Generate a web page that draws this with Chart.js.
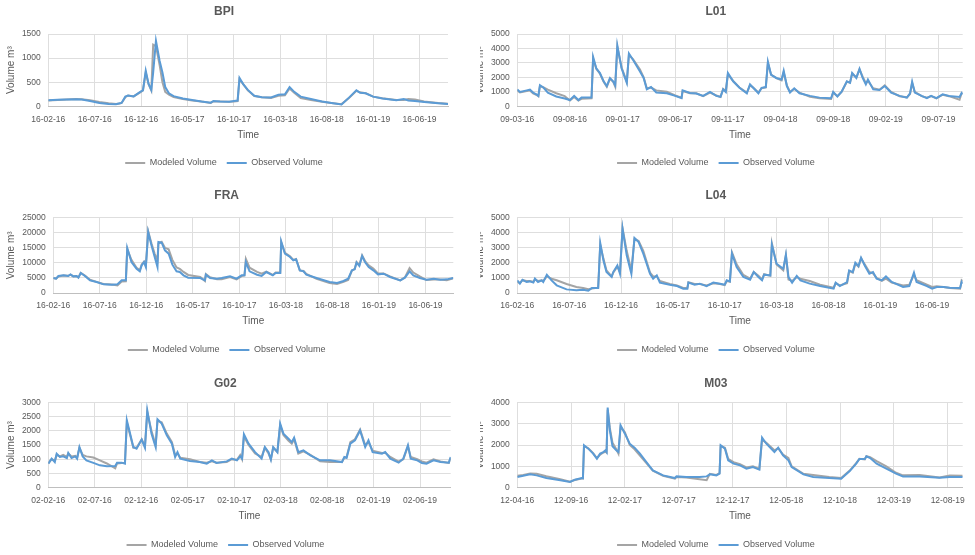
<!DOCTYPE html>
<html>
<head>
<meta charset="utf-8">
<script src="https://cdn.jsdelivr.net/npm/chart.js@4.4.1/dist/chart.umd.min.js"></script>
<style>
   html, body { margin: 0; padding: 0; background: #fff; overflow: hidden; }
   .panel { position: absolute; overflow: hidden; }
   .panel canvas { position: absolute; top: 0; }
</style>
</head>
<body>
<div class="panel" id="panel-bpi"><canvas id="bpi"></canvas></div>
<div class="panel" id="panel-l01"><canvas id="l01"></canvas></div>
<div class="panel" id="panel-fra"><canvas id="fra"></canvas></div>
<div class="panel" id="panel-l04"><canvas id="l04"></canvas></div>
<div class="panel" id="panel-g02"><canvas id="g02"></canvas></div>
<div class="panel" id="panel-m03"><canvas id="m03"></canvas></div>
<script>
// x values are months since the first axis label
const feb16Ticks = ['16-02-16', '16-07-16', '16-12-16', '16-05-17', '16-10-17', '16-03-18', '16-08-18', '16-01-19', '16-06-19'];
const l01Ticks = ['09-03-16', '09-08-16', '09-01-17', '09-06-17', '09-11-17', '09-04-18', '09-09-18', '09-02-19', '09-07-19'];
const g02Ticks = ['02-02-16', '02-07-16', '02-12-16', '02-05-17', '02-10-17', '02-03-18', '02-08-18', '02-01-19', '02-06-19'];
const m03Ticks = ['12-04-16', '12-09-16', '12-02-17', '12-07-17', '12-12-17', '12-05-18', '12-10-18', '12-03-19', '12-08-19'];

const bpiMonths = [0, 1, 2, 3, 3.6, 4.5, 5.5, 6.5, 7.3, 7.7, 7.9, 8.3, 8.6, 9.2, 9.9, 10.2, 10.5, 10.8, 11.1, 11.3, 11.6, 12.0, 12.3, 12.6, 13.0, 13.5, 14.5, 15.5, 16.5, 17.5, 17.8, 18.5, 19.5, 20.0, 20.4, 20.6, 21.0, 21.5, 22.2, 23.0, 24.0, 24.8, 25.5, 26.0, 26.5, 27.2, 28.3, 29.5, 30.5, 31.6, 32.4, 33.2, 33.6, 34.2, 35.0, 36.0, 37.5, 38.3, 38.8, 39.5, 40.5, 42.0, 43.07];
const bpiObserved = [125, 135, 140, 145, 140, 110, 70, 50, 45, 65, 70, 200, 225, 205, 300, 330, 740, 470, 340, 700, 1360, 940, 700, 400, 270, 210, 160, 130, 100, 75, 110, 100, 95, 110, 120, 590, 460, 340, 220, 190, 185, 240, 250, 400, 300, 200, 150, 100, 70, 40, 180, 330, 280, 270, 200, 160, 125, 150, 120, 110, 90, 65, 50];
const bpiModeled = [120, 130, 140, 150, 145, 125, 90, 65, 50, 60, 70, 190, 225, 205, 290, 330, 700, 460, 330, 1280, 1250, 850, 500, 300, 240, 190, 150, 120, 100, 70, 100, 100, 95, 100, 110, 560, 460, 330, 215, 190, 175, 220, 230, 370, 280, 170, 130, 95, 70, 45, 170, 320, 290, 270, 200, 165, 130, 130, 150, 140, 100, 70, 55];

const l01Months = [0, 0.25, 0.9, 1.2, 1.5, 1.8, 2.0, 2.15, 2.5, 2.9, 3.7, 4.5, 5.0, 5.4, 5.8, 6.1, 7.05, 7.2, 7.5, 7.85, 8.2, 8.5, 8.8, 9.1, 9.3, 9.5, 9.9, 10.4, 10.6, 11.0, 11.65, 12.0, 12.3, 12.7, 13.2, 14.2, 15.0, 15.6, 15.7, 16.4, 17.0, 17.65, 18.3, 18.9, 19.3, 19.55, 19.8, 20.0, 20.5, 21.1, 21.8, 22.1, 22.4, 22.9, 23.2, 23.6, 23.8, 24.1, 24.6, 25.1, 25.3, 25.6, 25.9, 26.3, 26.8, 27.8, 28.7, 29.8, 30.0, 30.4, 30.8, 31.3, 31.6, 31.8, 32.2, 32.5, 32.8, 33.1, 33.3, 33.8, 34.4, 34.9, 35.5, 36.3, 37.0, 37.3, 37.5, 37.75, 38.4, 38.9, 39.3, 39.8, 40.4, 41.0, 42.0, 42.2, 42.3];
const l01Observed = [1170, 990, 1100, 1150, 950, 830, 720, 1460, 1280, 950, 680, 540, 430, 720, 430, 600, 600, 3420, 2630, 2300, 1730, 1400, 1960, 1730, 1450, 4200, 2630, 1620, 3650, 3200, 2400, 1960, 1170, 1330, 950, 900, 720, 560, 1100, 920, 880, 720, 990, 720, 650, 1170, 990, 2300, 1730, 1280, 900, 1510, 1280, 900, 1280, 1330, 3080, 2180, 1960, 1850, 2450, 1400, 950, 1240, 900, 720, 600, 560, 990, 680, 1010, 1730, 1620, 2300, 1960, 2590, 1960, 1510, 1850, 1170, 1130, 1400, 950, 720, 600, 900, 1690, 950, 720, 560, 720, 560, 830, 720, 650, 920, 830];
const l01Modeled = [1100, 960, 1050, 1100, 900, 800, 700, 1400, 1300, 1150, 900, 700, 400, 650, 400, 520, 560, 3300, 2600, 2250, 1700, 1350, 1900, 1700, 1350, 4100, 2700, 1700, 3550, 3250, 2550, 2000, 1250, 1300, 1100, 1000, 750, 600, 1050, 900, 900, 700, 950, 750, 650, 1200, 1050, 2200, 1750, 1300, 950, 1450, 1300, 950, 1250, 1300, 3000, 2200, 1950, 1800, 2350, 1450, 1000, 1200, 950, 650, 550, 500, 950, 700, 1000, 1700, 1650, 2250, 2000, 2550, 2050, 1600, 1750, 1250, 1150, 1450, 1000, 700, 620, 850, 1600, 1000, 700, 600, 700, 550, 800, 700, 450, 900, 850];

const fraMonths = [0, 0.3, 0.55, 1.1, 1.6, 1.85, 2.15, 2.5, 2.7, 2.95, 3.4, 3.95, 4.65, 5.4, 6.3, 6.9, 7.35, 7.8, 7.95, 8.4, 8.95, 9.3, 9.5, 9.75, 9.95, 10.2, 10.55, 10.9, 11.2, 11.3, 11.65, 12.0, 12.4, 12.8, 13.25, 13.6, 14.0, 14.5, 15.8, 16.3, 16.4, 16.85, 17.6, 18.1, 19.0, 19.7, 20.25, 20.55, 20.7, 21.1, 21.9, 22.4, 22.9, 23.6, 23.9, 24.4, 24.5, 24.9, 25.45, 25.8, 26.1, 26.5, 26.9, 27.2, 28.3, 29.7, 30.5, 31.2, 31.7, 32.1, 32.4, 32.6, 32.9, 33.2, 33.5, 33.9, 34.4, 34.9, 35.5, 36.2, 37.3, 37.8, 38.3, 38.7, 39.4, 40.1, 40.9, 41.6, 42.3, 43.0];
const fraObserved = [4980, 4750, 5640, 5860, 5640, 6190, 5530, 5640, 5090, 6640, 5640, 4200, 3650, 2880, 2760, 2880, 4200, 4200, 14930, 10280, 8070, 7190, 9180, 10280, 8630, 20240, 15820, 11950, 8630, 16920, 16700, 14160, 13050, 9400, 7190, 6970, 5860, 5090, 4980, 4200, 6080, 4980, 4750, 4980, 5530, 4750, 5860, 5860, 10280, 7190, 6080, 5640, 6970, 5860, 6640, 6640, 17140, 13050, 11950, 10840, 11170, 7520, 7190, 6080, 4980, 3650, 3320, 3980, 4750, 7520, 7850, 10060, 8960, 12280, 10280, 8630, 7520, 6190, 6410, 5310, 4200, 5090, 7190, 5860, 4980, 4420, 4750, 4420, 4530, 4980];
const fraModeled = [5000, 4800, 5500, 5800, 5700, 6100, 5500, 5600, 5200, 6700, 5800, 4400, 3700, 3000, 2800, 2500, 3800, 3900, 14500, 11000, 8400, 7600, 9500, 10400, 9000, 20500, 16500, 13000, 11000, 16500, 17000, 15000, 14500, 11000, 8500, 8000, 7000, 6000, 5300, 4000, 6300, 5200, 4600, 4600, 5300, 4500, 5600, 5800, 11300, 8400, 7000, 6400, 7100, 6000, 6800, 6800, 16800, 13300, 12200, 11000, 11300, 7500, 7300, 6300, 4700, 3300, 3000, 3700, 4300, 7400, 8000, 10300, 9300, 12500, 10700, 9200, 8100, 6500, 6500, 5500, 4200, 5200, 8300, 6800, 5500, 4300, 4500, 4500, 4200, 4900];

const l04Months = [0, 0.25, 0.5, 0.9, 1.2, 1.55, 1.7, 2.0, 2.35, 2.5, 2.85, 3.3, 3.8, 4.75, 5.7, 6.35, 6.85, 7.2, 7.8, 8.0, 8.3, 8.6, 9.1, 9.25, 9.65, 9.9, 10.15, 10.55, 11.0, 11.3, 11.7, 12.15, 12.8, 13.1, 13.45, 13.75, 14.7, 15.4, 16.0, 16.4, 16.5, 17.1, 17.6, 18.25, 18.9, 19.55, 20.0, 20.2, 20.5, 20.7, 21.15, 21.8, 22.45, 22.8, 23.25, 23.6, 23.8, 24.4, 24.55, 25.0, 25.65, 25.9, 26.15, 26.5, 26.95, 27.3, 28.2, 29.2, 30.5, 30.7, 31.1, 31.8, 32.0, 32.35, 32.6, 32.9, 33.15, 33.5, 33.95, 34.3, 34.65, 35.15, 35.55, 36.1, 37.2, 37.8, 38.25, 38.5, 39.5, 40.0, 40.45, 41.1, 41.7, 42.7, 42.85, 42.95];
const l04Observed = [840, 620, 880, 730, 770, 690, 950, 730, 840, 730, 1215, 840, 510, 240, 180, 220, 155, 330, 330, 3315, 2170, 1390, 1060, 1390, 1830, 1280, 4270, 2500, 1280, 3650, 3380, 2610, 1280, 950, 1170, 690, 550, 460, 290, 290, 690, 550, 620, 460, 690, 620, 550, 840, 770, 2610, 1720, 1060, 880, 1390, 1060, 840, 1215, 1170, 3200, 1940, 1610, 2540, 1060, 690, 1130, 840, 620, 460, 290, 690, 460, 730, 1500, 1390, 2010, 1790, 2340, 1830, 1280, 1390, 950, 840, 1100, 730, 400, 460, 1350, 730, 460, 290, 400, 400, 350, 330, 730, 620];
const l04Modeled = [750, 650, 850, 800, 800, 750, 900, 800, 850, 800, 1100, 950, 850, 600, 400, 330, 250, 300, 350, 3200, 2300, 1500, 1100, 1350, 1750, 1400, 4300, 2800, 1500, 3600, 3450, 2800, 1350, 1100, 1100, 800, 600, 500, 330, 350, 720, 600, 600, 500, 650, 600, 520, 800, 750, 2700, 1900, 1200, 950, 1400, 1150, 900, 1250, 1150, 3300, 1900, 1500, 2500, 900, 800, 1050, 950, 800, 550, 350, 650, 500, 650, 1450, 1350, 1950, 1750, 2300, 1900, 1400, 1300, 1000, 800, 950, 700, 500, 550, 1200, 850, 550, 400, 450, 400, 330, 280, 850, 800];

const g02Months = [0, 0.36, 0.7, 0.9, 1.25, 1.6, 2.0, 2.15, 2.5, 2.9, 3.1, 3.35, 3.7, 4.1, 4.85, 5.55, 6.3, 7.2, 7.4, 7.9, 8.25, 8.45, 8.8, 9.15, 9.5, 10.05, 10.4, 10.65, 11.1, 11.55, 11.75, 12.2, 12.75, 13.3, 13.65, 13.9, 14.2, 15.25, 16.3, 17.05, 17.6, 18.1, 19.2, 19.75, 20.3, 20.65, 20.85, 21.05, 21.55, 22.25, 22.95, 23.3, 23.7, 23.95, 24.2, 24.65, 24.95, 25.3, 25.85, 26.2, 26.45, 26.9, 27.45, 28.2, 29.25, 30.3, 31.6, 31.85, 32.1, 32.5, 33.0, 33.55, 34.1, 34.45, 34.9, 35.9, 36.25, 36.8, 37.7, 38.2, 38.7, 39.0, 39.7, 40.2, 40.7, 41.45, 42.2, 43.1, 43.3];
const g02Observed = [843, 1020, 900, 1195, 1080, 1100, 1040, 1220, 1040, 1100, 1020, 1430, 1100, 960, 870, 785, 750, 760, 880, 880, 843, 2365, 1900, 1430, 1370, 1690, 1405, 2715, 1900, 1430, 2400, 2250, 1840, 1545, 1080, 1250, 1020, 937, 900, 843, 960, 870, 925, 1020, 960, 1100, 1020, 1875, 1545, 1250, 1020, 1430, 1250, 985, 1430, 1250, 2250, 1900, 1720, 1600, 1755, 1250, 1310, 1135, 960, 960, 900, 1080, 1050, 1545, 1665, 2010, 1430, 1665, 1250, 1195, 1250, 1020, 880, 1020, 1490, 1020, 960, 870, 843, 960, 900, 880, 1080];
const g02Modeled = [850, 1000, 950, 1150, 1100, 1150, 1080, 1200, 1100, 1120, 1050, 1400, 1150, 1100, 1060, 960, 850, 680, 850, 870, 880, 2300, 1850, 1400, 1400, 1700, 1450, 2650, 2000, 1500, 2350, 2300, 1900, 1600, 1150, 1200, 1050, 1000, 900, 880, 930, 880, 900, 1000, 980, 1150, 1000, 1800, 1500, 1200, 1080, 1400, 1200, 1000, 1400, 1250, 2200, 1850, 1650, 1550, 1700, 1200, 1280, 1150, 930, 900, 900, 1050, 1080, 1600, 1700, 2040, 1500, 1600, 1300, 1220, 1230, 1080, 920, 1000, 1450, 1080, 1000, 920, 880, 1000, 920, 870, 1050];

const m03Months = [0, 0.55, 1.2, 1.8, 2.7, 4.0, 4.9, 5.35, 6.0, 6.1, 6.2, 6.6, 7.05, 7.4, 7.7, 8.0, 8.2, 8.3, 8.4, 8.6, 8.85, 9.2, 9.4, 9.6, 10.0, 10.45, 10.9, 11.4, 12.0, 12.6, 13.55, 14.65, 14.8, 15.7, 16.95, 17.6, 17.9, 18.5, 18.8, 18.9, 19.3, 19.6, 20.1, 20.7, 21.3, 21.9, 22.5, 22.75, 23.15, 23.9, 24.25, 24.7, 25.2, 25.5, 26.6, 27.5, 29.0, 30.1, 30.9, 31.5, 31.8, 32.3, 32.45, 32.8, 33.4, 34.3, 35.2, 35.85, 37.4, 39.25, 40.2, 41.4];
const m03Observed = [500, 563, 625, 578, 453, 344, 266, 375, 453, 440, 1985, 1830, 1595, 1360, 1595, 1670, 1750, 1670, 3750, 2690, 1940, 1750, 1670, 2920, 2530, 2060, 1875, 1595, 1200, 810, 578, 453, 530, 500, 500, 530, 625, 578, 656, 1985, 1830, 1280, 1125, 1047, 890, 970, 845, 2345, 2060, 1670, 1875, 1515, 1280, 970, 625, 500, 453, 422, 780, 1125, 1345, 1345, 1470, 1390, 1125, 890, 656, 530, 530, 470, 500, 500];
const m03Modeled = [560, 600, 660, 650, 540, 400, 280, 360, 430, 430, 1950, 1850, 1620, 1380, 1550, 1650, 1680, 1650, 3650, 2800, 2100, 1800, 1600, 2850, 2600, 2000, 1800, 1500, 1150, 800, 560, 420, 500, 480, 400, 350, 650, 600, 680, 1950, 1870, 1350, 1200, 1100, 950, 1000, 880, 2250, 2100, 1750, 1850, 1550, 1400, 1000, 650, 600, 500, 450, 800, 1150, 1350, 1320, 1480, 1430, 1250, 1000, 700, 580, 600, 480, 570, 560];

const TICK_STEP = 5;   // months between date labels
const GRAY = '#A5A5A5';
const BLUE = '#5B9BD5';
const TEXT = '#595959';
const GRID = '#DEDEDE';

Chart.defaults.font.family = "'Liberation Sans', Arial, sans-serif";

// vertical layout of each row of panels (px, relative to the panel top)
const rows = [
   { top: 0,   height: 180, titleY: 12, plotTop: 34,   plotBottom: 106.3, timeY: 135,   legendY: 163 },
   { top: 180, height: 185, titleY: 16, plotTop: 37.7, plotBottom: 113,   timeY: 141.7, legendY: 170 },
   { top: 365, height: 195, titleY: 19, plotTop: 37.3, plotBottom: 122.7, timeY: 151.7, legendY: 180 }
];
const cols = [
   { left: 0,   width: 460, canvasLeft: 0 },
   { left: 480, width: 495, canvasLeft: -11 }
];

function toPoints(xs, ys) {
   return xs.map((x, i) => ({ x: x, y: ys[i] }));
}

function drawPanel(id, title, row, col, yWidth, padRight, months, modeled, observed, tickLabels, yMax, yStep) {
   const r = rows[row];
   const c = cols[col];
   const panel = document.getElementById('panel-' + id);
   panel.style.left = c.left + 'px';
   panel.style.top = r.top + 'px';
   panel.style.width = c.width + 'px';
   panel.style.height = r.height + 'px';

   const canvas = document.getElementById(id);
   canvas.width = c.width - c.canvasLeft;
   canvas.height = r.height;
   canvas.style.left = c.canvasLeft + 'px';

   const legendTop = r.legendY - 14.5;

   new Chart(canvas, {
      type: 'line',
      data: {
         datasets: [{
            label: 'Modeled Volume',
            data: toPoints(months, modeled),
            borderColor: GRAY,
            backgroundColor: GRAY,
            borderWidth: 2,
            pointRadius: 0,
            order: 1
         }, {
            label: 'Observed Volume',
            data: toPoints(months, observed),
            borderColor: BLUE,
            backgroundColor: BLUE,
            borderWidth: 2,
            pointRadius: 0,
            order: 0
         }]
      },
      options: {
         responsive: false,
         animation: false,
         layout: { padding: { left: 0, right: padRight, top: 0, bottom: r.height - r.legendY - 14.5 } },
         plugins: {
            title: {
               display: true,
               text: title,
               color: TEXT,
               font: { size: 12, weight: 'bold' },
               padding: { top: r.titleY - 7.2, bottom: r.plotTop - r.titleY - 7.2 }
            },
            legend: {
               position: 'bottom',
               labels: {
                  boxWidth: 20,
                  boxHeight: 2,
                  padding: 10,
                  color: TEXT,
                  font: { size: 9 },
                  sort: (a, b) => a.datasetIndex - b.datasetIndex,
                  generateLabels: chart => Chart.defaults.plugins.legend.labels.generateLabels(chart)
                     .map(item => Object.assign(item, { lineWidth: 0 }))
               }
            },
            tooltip: { enabled: false }
         },
         scales: {
            x: {
               type: 'linear',
               min: 0,
               max: months[months.length - 1],
               afterBuildTicks: scale => {
                  scale.ticks = tickLabels.map((t, i) => ({ value: i * TICK_STEP }));
               },
               afterFit: scale => { scale.height = legendTop - r.plotBottom; },
               ticks: {
                  color: TEXT,
                  font: { size: 8.5 },
                  padding: 8,
                  maxRotation: 0,
                  autoSkip: false,
                  callback: (v, i) => tickLabels[i]
               },
               grid: { color: GRID, drawTicks: false },
               border: { color: '#BFBFBF' },
               title: {
                  display: true,
                  text: 'Time',
                  color: TEXT,
                  font: { size: 10 },
                  padding: { top: 0, bottom: legendTop - 6 - r.timeY }
               }
            },
            y: {
               min: 0,
               max: yMax,
               afterFit: scale => { scale.width = yWidth; },
               ticks: {
                  stepSize: yStep,
                  color: TEXT,
                  font: { size: 8.5 },
                  padding: 7.5,
                  callback: v => String(v)
               },
               grid: { color: GRID, drawTicks: false },
               border: { display: false },
               title: {
                  display: true,
                  text: 'Volume m³',
                  color: TEXT,
                  font: { size: 10 },
                  padding: { top: 5, bottom: 0 }
               }
            }
         }
      }
   });
}

drawPanel('bpi', 'BPI', 0, 0, 48.3, 12, bpiMonths, bpiModeled, bpiObserved, feb16Ticks, 1500, 500);
drawPanel('l01', 'L01', 0, 1, 48.3, 12.3, l01Months, l01Modeled, l01Observed, l01Ticks, 5000, 1000);
drawPanel('fra', 'FRA', 1, 0, 53.3, 6.7, fraMonths, fraModeled, fraObserved, feb16Ticks, 25000, 5000);
drawPanel('l04', 'L04', 1, 1, 48.3, 12.3, l04Months, l04Modeled, l04Observed, feb16Ticks, 5000, 1000);
drawPanel('g02', 'G02', 2, 0, 48.3, 9.3, g02Months, g02Modeled, g02Observed, g02Ticks, 3000, 500);
drawPanel('m03', 'M03', 2, 1, 48.3, 12.3, m03Months, m03Modeled, m03Observed, m03Ticks, 4000, 1000);
</script>
</body>
</html>
